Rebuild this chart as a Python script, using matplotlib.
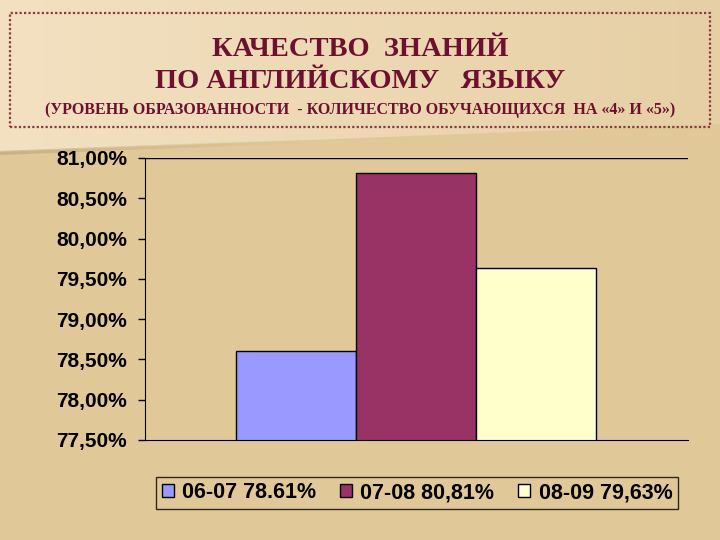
import numpy as np
import matplotlib
matplotlib.use("Agg")
import matplotlib.pyplot as plt
from matplotlib.patches import Rectangle, Polygon
from matplotlib.ticker import FuncFormatter

# ── Data ─────────────────────────────────────────────────────────────────── #
years = ["06-07", "07-08", "08-09"]
values = [78.61, 80.81, 79.63]
legend_labels = ["06-07 78.61%", "07-08 80,81%", "08-09 79,63%"]
yticks = [77.5, 78.0, 78.5, 79.0, 79.5, 80.0, 80.5, 81.0]

colors = ["#9999FF", "#993366", "#FFFFCC"]
BG = "#E1C898"
TITLE_COLOR = "#6E1030"

fig = plt.figure(figsize=(7.2, 5.4), dpi=100)
fig.patch.set_facecolor(BG)

# ── Slide background: lighter wedge in the upper part ────────────────────── #
bg_ax = fig.add_axes([0, 0, 1, 1], zorder=-10)
bg_ax.set_xlim(0, 720)
bg_ax.set_ylim(540, 0)
bg_ax.axis("off")
grad = np.linspace(0, 1, 256)
top_img = np.zeros((1, 256, 3))
c0 = np.array([0xF3, 0xE1, 0xC2]) / 255
c1 = np.array([0xE6, 0xCF, 0xA4]) / 255
top_img[0] = c0 + (c1 - c0) * grad[:, None]
im = bg_ax.imshow(top_img, extent=[0, 720, 160, 0], aspect="auto", zorder=0)
clip = Polygon([(0, 0), (720, 0), (720, 124), (0, 152)], transform=bg_ax.transData)
im.set_clip_path(clip)
# soft shadow under the wedge edge, fading to the right
for i in range(12):
    x0, x1 = i * 25, (i + 1) * 25
    y0, y1 = 153 - x0 * 28 / 720, 153 - x1 * 28 / 720
    bg_ax.plot([x0, x1], [y0, y1], color="#B09870", lw=3,
               alpha=0.45 * (1 - i / 12), solid_capstyle="butt", zorder=1)

# ── Title box ────────────────────────────────────────────────────────────── #
fig.patches.append(Rectangle((10 / 720, 1 - 127 / 540), 700 / 720, 114 / 540,
                             transform=fig.transFigure, fill=False,
                             edgecolor="#8A3A40", lw=1.6, ls=(0, (1, 1))))
fig.text(0.5, 1 - 49 / 540, "КАЧЕСТВО  ЗНАНИЙ", ha="center", va="center",
         fontsize=20.5, fontweight="bold", family="Liberation Serif", color=TITLE_COLOR)
fig.text(0.5, 1 - 81 / 540, "ПО АНГЛИЙСКОМУ   ЯЗЫКУ", ha="center", va="center",
         fontsize=20.5, fontweight="bold", family="Liberation Serif", color=TITLE_COLOR)
fig.text(0.5, 1 - 110 / 540,
         "(УРОВЕНЬ ОБРАЗОВАННОСТИ  - КОЛИЧЕСТВО ОБУЧАЮЩИХСЯ  НА «4» И «5»)",
         ha="center", va="center", fontsize=11.5, fontweight="bold",
         family="Liberation Serif", color=TITLE_COLOR)

# ── Chart ────────────────────────────────────────────────────────────────── #
ax = fig.add_axes([145 / 720, 1 - 440 / 540, 543 / 720, 282 / 540])
ax.set_facecolor("none")
x = np.arange(len(values))
bars = ax.bar(x, values, width=1.0, color=colors, edgecolor="black", lw=1.0)
for b, lab in zip(bars, legend_labels):
    b.set_label(lab)

ax.set_ylim(77.5, 81.0)
ax.set_xlim(-1.26, 3.27)
ax.set_yticks(yticks)
ax.yaxis.set_major_formatter(FuncFormatter(lambda v, p: f"{v:.2f}%".replace(".", ",")))
ax.tick_params(axis="y", direction="out", length=5, width=1, pad=8, labelsize=15)
for t in ax.get_yticklabels():
    t.set_fontweight("bold")
    t.set_family("Liberation Sans")
ax.set_xticks([])
ax.axhline(81.0, color="black", lw=1)
for s in ["top", "right"]:
    ax.spines[s].set_visible(False)

leg = fig.legend(handles=list(bars), loc="center",
                 bbox_to_anchor=(417 / 720, 1 - 493 / 540), ncol=3,
                 prop={"family": "Liberation Sans", "weight": "bold", "size": 15.5},
                 frameon=True, fancybox=False, edgecolor="black",
                 facecolor=BG, handlelength=0.55, handleheight=0.55,
                 handletextpad=0.4, columnspacing=1.1, borderpad=0.25)
leg.get_frame().set_linewidth(1)

fig.savefig("out.png", dpi=100, facecolor=BG)
